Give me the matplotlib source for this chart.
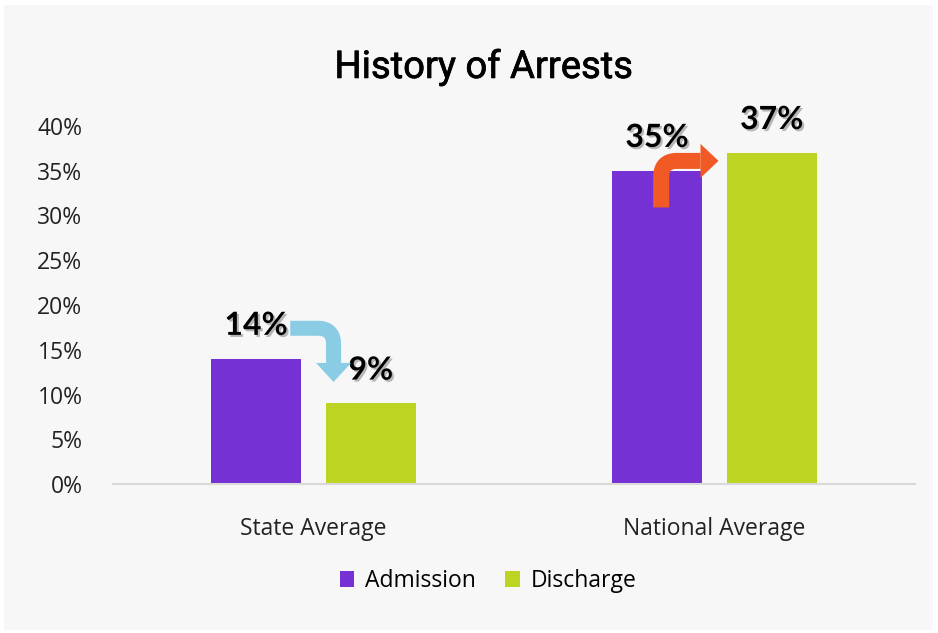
import matplotlib.pyplot as plt
import matplotlib.patheffects as pe
from matplotlib.patches import Rectangle, Polygon
import numpy as np

# data
groups = ['State Average', 'National Average']
admission = [14, 35]
discharge = [9, 37]
yticks = [0, 5, 10, 15, 20, 25, 30, 35, 40]

c_adm = '#7531D3'
c_dis = '#BDD422'
c_blue = '#89CCE3'
c_orange = '#F15A24'

W, H = 938, 633
fig = plt.figure(figsize=(W/100, H/100), dpi=100, facecolor='white')

# grey panel behind everything
fig.patches.append(Rectangle((4/W, 3/H), 929/W, 625/H, transform=fig.transFigure,
                             facecolor='#F7F7F7', edgecolor='none', zorder=-1))

ax = fig.add_axes([113/W, 1-484/H, 802/W, (484-126)/H])
ax.set_facecolor('none')

x = np.arange(len(groups))
bw = 0.224
off = 0.143
ax.bar(x-off, admission, bw, color=c_adm, label='Admission', zorder=2)
ax.bar(x+off, discharge, bw, color=c_dis, label='Discharge', zorder=2)

ax.set_xlim(-0.5, 1.5)
ax.set_ylim(0, 40)
ax.set_yticks(yticks)
ax.set_yticklabels([f'{v}%' for v in yticks], fontsize=16.5, family='Open Sans', color='#222222')
ax.set_xticks(x)
ax.set_xticklabels(groups, fontsize=16.5, family='Open Sans', color='#222222')
ax.tick_params(length=0)
ax.tick_params(axis='y', pad=22)
ax.tick_params(axis='x', pad=24)
for s in ['top', 'right', 'left']:
    ax.spines[s].set_visible(False)
ax.spines['bottom'].set_color('#D9D9D9')
ax.spines['bottom'].set_linewidth(1.5)

fig.text(484/W, 1-67/H, 'History of Arrests', ha='center', va='center',
         fontsize=27.5, family='Roboto', color='black',
         path_effects=[pe.withStroke(linewidth=0.5, foreground='black')])

# value labels with a soft shadow
shadow = [pe.SimplePatchShadow(offset=(1.5, -1.5), shadow_rgbFace='#777777', alpha=0.5), pe.Normal()]
for i in range(len(groups)):
    for xv, v in [(x[i]-off, admission[i]), (x[i]+off, discharge[i])]:
        ax.annotate(f'{v}%', (xv, v), xytext=(0, 24), textcoords='offset points',
                    ha='center', va='center', fontsize=23, fontweight='bold',
                    family='Lato', color='black', path_effects=shadow, zorder=5)


def bent_arrow(p0, corner, tip, width, radius, head_w, head_l, color):
    # centerline in pixels: straight leg, quarter turn, straight leg up to arrow head
    p0, corner, tip = map(np.asarray, (p0, corner, tip))
    d1 = (corner - p0) / np.linalg.norm(corner - p0)
    d2 = (tip - corner) / np.linalg.norm(tip - corner)
    base = tip - d2 * head_l
    a = corner - d1 * radius
    b = corner + d2 * radius
    t = np.linspace(0, 1, 30)[:, None]
    arc = (1-t)**2 * a + 2*(1-t)*t * corner + t**2 * b
    pts = np.vstack([p0, arc, base])
    tang = np.gradient(pts, axis=0)
    tang /= np.linalg.norm(tang, axis=1)[:, None]
    nrm = np.column_stack([-tang[:, 1], tang[:, 0]])
    left = pts + nrm * width/2
    right = pts - nrm * width/2
    body = np.vstack([left, right[::-1]])
    n2 = np.array([-d2[1], d2[0]])
    head = np.array([base + n2*head_w/2, tip, base - n2*head_w/2])
    for poly in (body, head):
        fig.patches.append(Polygon(poly, closed=True, transform=None,
                                   facecolor=color, edgecolor='none', zorder=4))


fig.canvas.draw()
to_px = ax.transData.transform
# state average: decrease arrow from admission label down to discharge bar
bent_arrow(to_px((x[0]-0.058, admission[0]+3.4)), to_px((x[0]+0.05, admission[0]+3.4)),
           to_px((x[0]+0.05, discharge[0]+2.4)), 15, 16, 35, 19, c_blue)
# national average: increase arrow from admission bar up to discharge bar
bent_arrow(to_px((x[1]-0.133, admission[1]-4.1)), to_px((x[1]-0.133, admission[1]+1.1)),
           to_px((x[1]+0.01, admission[1]+1.1)), 16, 16, 34, 18, c_orange)

leg = fig.legend(loc='center', bbox_to_anchor=(488/W, 1-581/H), ncol=2, frameon=False,
                 prop={'family': 'Open Sans', 'size': 16.5}, handlelength=0.65,
                 handleheight=0.65, handletextpad=0.45, columnspacing=1.3)

fig.savefig('out.png', dpi=100, facecolor='white')
